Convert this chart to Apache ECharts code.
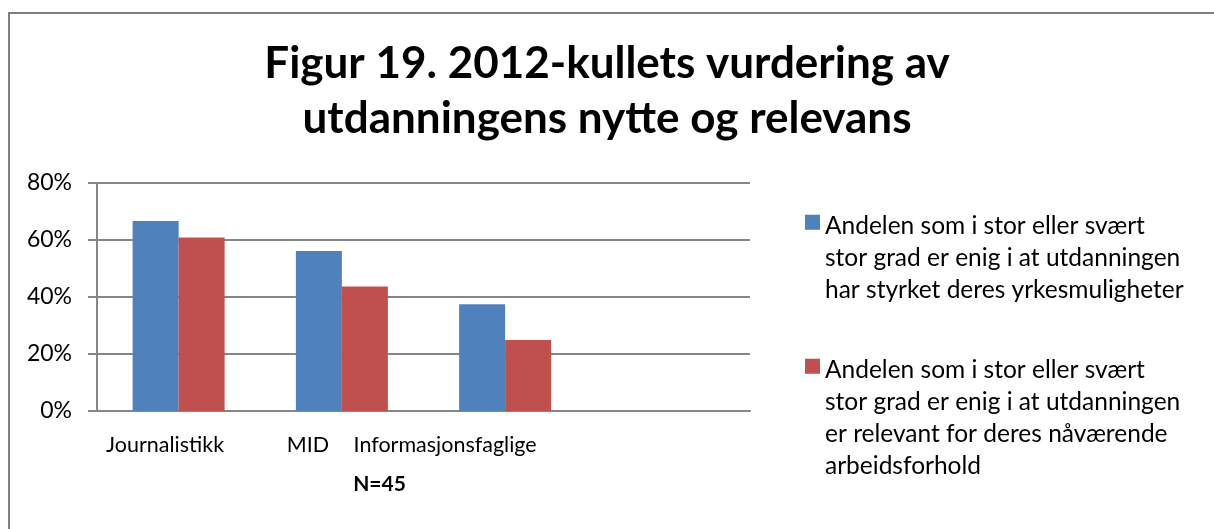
<!DOCTYPE html>
<html>
<head>
<meta charset="utf-8">
<title>Figur 19</title>
<script src="https://cdn.jsdelivr.net/npm/echarts@6/dist/echarts.min.js"></script>
<style>
    html, body { margin: 0; padding: 0; background: #fff; }
    #chart { width: 1214px; height: 529px; }
</style>
</head>
<body>
<div id="chart"></div>
<script>
// data
var categories = ["Journalistikk", "MID", "Informasjonsfaglige", ""];
// how far each category label sits left of its slot centre (as right padding)
var labelShift = [27, 68, 120, 0];
var seriesNames = [
    "Andelen som i stor eller svært\nstor grad er enig i at utdanningen\nhar styrket deres yrkesmuligheter",
    "Andelen som i stor eller svært\nstor grad er enig i at utdanningen\ner relevant for deres nåværende\narbeidsforhold"
];
var styrket = [66.7, 56.1, 37.5, null];
var relevant = [60.9, 43.7, 24.9, null];
var yTicks = { min: 0, max: 80, interval: 20 };

var font = "Lato";
var grey = "#868686";
var lineH = 32;

var myChart = echarts.init(document.getElementById("chart"));

// legend text is centred on the icon, so the icon is made as tall as the text
// block with the visible square sitting next to the first line
function legendFor(name, iconCenter) {
    var n = name.split("\n").length;
    var h = n * lineH;
    var sq0 = lineH / 2 - 7.5, sq1 = lineH / 2 + 7.5;
    var icon = "path://M0," + sq0 + "L15," + sq0 + "L15," + sq1 + "L0," + sq1 + "Z" +
        "M0," + h + "L0.01," + h + "L0.01," + (h - 0.01) + "Z";
    return {
        data: [name],
        orient: "vertical",
        left: 805,
        top: iconCenter - lineH / 2,
        padding: 0,
        itemWidth: 15,
        itemHeight: h,
        icon: icon,
        selectedMode: false,
        textStyle: {
            fontFamily: font,
            fontSize: 24.5,
            color: "#000",
            lineHeight: lineH
        }
    };
}

var option = {
    backgroundColor: "#fff",
    animation: false,
    textStyle: { fontFamily: font },
    title: {
        text: "Figur 19. 2012-kullets vurdering av\nutdanningens nytte og relevans",
        left: "center",
        top: 31,
        textStyle: {
            fontFamily: font,
            fontSize: 44,
            fontWeight: "bold",
            color: "#000",
            lineHeight: 55
        }
    },
    graphic: [{
        type: "rect",
        shape: { x: 9, y: 13, width: 1300, height: 600 },
        style: { fill: null, stroke: "#808080", lineWidth: 2 },
        silent: true
    }],
    legend: [legendFor(seriesNames[0], 226.5), legendFor(seriesNames[1], 370.5)],
    grid: { left: 97, right: 464, top: 183, bottom: 118 },
    xAxis: {
        type: "category",
        data: categories.map(function (c, i) {
            return { value: c, textStyle: { padding: [0, labelShift[i], 0, 0] } };
        }),
        axisLine: { lineStyle: { color: grey, width: 2 } },
        axisTick: { show: false },
        axisLabel: { fontFamily: font, fontSize: 21.5, color: "#000", margin: 23, interval: 0 },
        name: "N=45",
        nameLocation: "middle",
        nameGap: 63,
        nameTextStyle: {
            fontFamily: font, fontSize: 21, fontWeight: "bold", color: "#000",
            padding: [0, 88, 0, 0]
        }
    },
    yAxis: {
        type: "value",
        min: yTicks.min,
        max: yTicks.max,
        interval: yTicks.interval,
        axisLine: { show: true, lineStyle: { color: grey, width: 2 } },
        axisTick: { show: true, length: 9, lineStyle: { color: grey, width: 2 } },
        splitLine: { lineStyle: { color: grey, width: 2 } },
        axisLabel: { fontFamily: font, fontSize: 23, color: "#000", margin: 25, formatter: "{value}%" }
    },
    series: [
        {
            name: seriesNames[0],
            type: "bar",
            data: styrket,
            barWidth: 46,
            barGap: "0%",
            itemStyle: { color: "#4F81BD" }
        },
        {
            name: seriesNames[1],
            type: "bar",
            data: relevant,
            barWidth: 46,
            barGap: "0%",
            itemStyle: { color: "#C0504D" }
        }
    ]
};

myChart.setOption(option);
</script>
</body>
</html>
